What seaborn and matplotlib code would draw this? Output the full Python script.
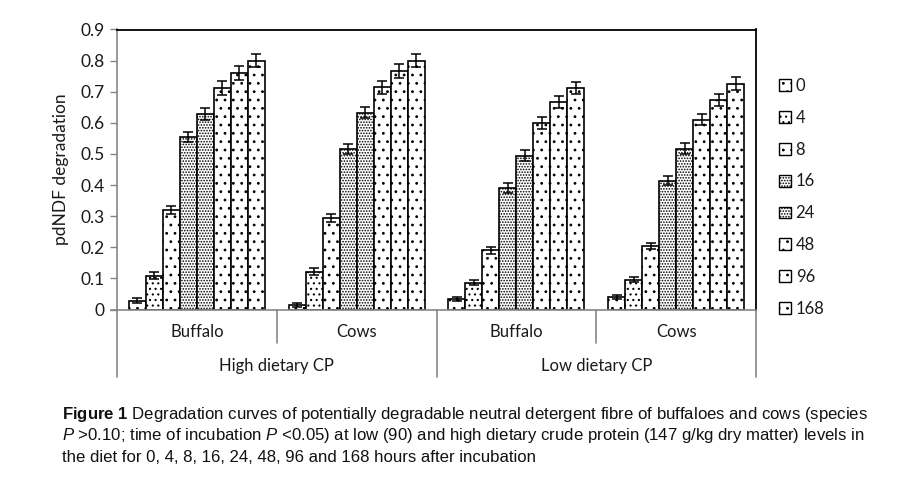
import numpy as np
import pandas as pd
import matplotlib
matplotlib.use("Agg")
import matplotlib.pyplot as plt
import seaborn as sns
from matplotlib.transforms import blended_transform_factory

# ---- data ----
groups = ["High-Buffalo", "High-Cows", "Low-Buffalo", "Low-Cows"]
species_labels = ["Buffalo", "Cows", "Buffalo", "Cows"]
diet_labels = ["High dietary CP", "Low dietary CP"]
times = ["0", "4", "8", "16", "24", "48", "96", "168"]

high_buffalo = [0.028, 0.108, 0.320, 0.555, 0.629, 0.712, 0.761, 0.800]
high_cows = [0.015, 0.122, 0.295, 0.515, 0.633, 0.715, 0.767, 0.800]
low_buffalo = [0.034, 0.086, 0.190, 0.390, 0.494, 0.600, 0.667, 0.713]
low_cows = [0.041, 0.095, 0.205, 0.414, 0.517, 0.610, 0.674, 0.726]

err_high_buffalo = [0.008, 0.011, 0.013, 0.016, 0.020, 0.021, 0.022, 0.021]
err_high_cows = [0.007, 0.010, 0.013, 0.016, 0.019, 0.021, 0.022, 0.022]
err_low_buffalo = [0.006, 0.008, 0.010, 0.016, 0.018, 0.019, 0.020, 0.019]
err_low_cows = [0.006, 0.008, 0.010, 0.014, 0.017, 0.018, 0.020, 0.020]

values = [high_buffalo, high_cows, low_buffalo, low_cows]
errors = [err_high_buffalo, err_high_cows, err_low_buffalo, err_low_cows]

rows = []
for g, vals, errs in zip(groups, values, errors):
    for t, v, e in zip(times, vals, errs):
        rows.append({"group": g, "time": t, "value": v, "err": e})
df = pd.DataFrame(rows)

# ---- style ----
sns.set_theme(style="white")
plt.rcParams["font.family"] = ["Lato", "DejaVu Sans"]
plt.rcParams["mathtext.fontset"] = "custom"
plt.rcParams["mathtext.rm"] = "Liberation Sans"
plt.rcParams["mathtext.it"] = "Liberation Sans:italic"
plt.rcParams["mathtext.bf"] = "Liberation Sans:bold"
plt.rcParams["hatch.linewidth"] = 0.8

axis_grey = "#868686"
text_col = "#1a1a1a"

fig = plt.figure(figsize=(8.97, 4.82), dpi=100)
ax = fig.add_axes([117 / 897, 1 - 309.5 / 482, (756 - 117) / 897, (309.5 - 29.5) / 482])

sns.barplot(data=df, x="group", y="value", hue="time", order=groups, hue_order=times,
            color="white", palette=["white"] * len(times), edgecolor="black", linewidth=1.2,
            width=0.85, errorbar=None, ax=ax, legend=True)

hatches = ["..", "...", "..", "......", "......", "..", "..", ".."]
for cont, h, t in zip(ax.containers, hatches, times):
    sub = df[df["time"] == t].set_index("group").loc[groups]
    xs = [p.get_x() + p.get_width() / 2 for p in cont.patches]
    for p in cont.patches:
        p.set_hatch(h)
        p.set_facecolor("white")
        p.set_edgecolor("black")
    ax.errorbar(xs, sub["value"].values, yerr=sub["err"].values, fmt="none",
                ecolor="black", elinewidth=1.1, capsize=3.5, capthick=1.1, zorder=5)

ax.set_ylim(0, 0.9)
ax.set_xlim(-0.5, 3.5)
ax.set_yticks(np.arange(0, 0.91, 0.1))
ax.set_yticklabels(["0"] + [f"{v:.1f}" for v in np.arange(0.1, 0.91, 0.1)])
ax.tick_params(axis="y", which="both", left=True, length=5, width=1, color=axis_grey,
               labelsize=12.5, labelcolor=text_col, pad=4)
ax.tick_params(axis="x", bottom=False, labelbottom=False)
ax.set_xlabel("")
ax.set_ylabel("pdNDF degradation", fontsize=12.5, color=text_col, labelpad=8)

for side in ["top", "right"]:
    ax.spines[side].set_visible(True)
    ax.spines[side].set_color("black")
    ax.spines[side].set_linewidth(1.3)
for side in ["left", "bottom"]:
    ax.spines[side].set_color(axis_grey)
    ax.spines[side].set_linewidth(1.2)
ax.spines["bottom"].set_bounds(-0.5 - 0.04, 3.5)

# category axis labels (multi-level)
trans = blended_transform_factory(ax.transData, ax.transAxes)
for i, lab in enumerate(species_labels):
    ax.text(i, -0.08, lab, transform=trans, ha="center", va="center", fontsize=12,
            color=text_col, clip_on=False)
for j, lab in enumerate(diet_labels):
    ax.text(0.5 + 2 * j, -0.202, lab, transform=trans, ha="center", va="center",
            fontsize=12, color=text_col, clip_on=False)
for xv in [0.5, 2.5]:
    ax.plot([xv, xv], [0, -0.12], transform=trans, color=axis_grey, lw=1.2, clip_on=False)
for xv in [-0.5, 1.5, 3.5]:
    ax.plot([xv, xv], [0, -0.24], transform=trans, color=axis_grey, lw=1.2, clip_on=False)

# legend
handles, labels = ax.get_legend_handles_labels()
for hnd, h in zip(handles, hatches):
    hnd.set_hatch(h)
    hnd.set_facecolor("white")
    hnd.set_edgecolor("black")
    hnd.set_linewidth(1.0)
ax.legend(handles, labels, loc="upper left", bbox_to_anchor=(779 / 897, 1 - 78 / 482),
          bbox_transform=fig.transFigure, frameon=False, fontsize=12,
          handlelength=0.7, handleheight=0.7, handletextpad=0.3, labelspacing=0.95,
          borderaxespad=0, borderpad=0, labelcolor=text_col)

# caption
cap_lines = [
    r"$\mathbf{Figure\ 1}$ Degradation curves of potentially degradable neutral detergent fibre of buffaloes and cows (species",
    r"$\mathit{P}$ >0.10; time of incubation $\mathit{P}$ <0.05) at low (90) and high dietary crude protein (147 g/kg dry matter) levels in",
    "the diet for 0, 4, 8, 16, 24, 48, 96 and 168 hours after incubation",
]
for k, line in enumerate(cap_lines):
    fig.text(62 / 897, 1 - (414 + 21.5 * k) / 482, line, ha="left", va="center",
             fontsize=12.1, color="#111111", family=["Liberation Sans", "DejaVu Sans"])

fig.savefig("out.png", dpi=100)
